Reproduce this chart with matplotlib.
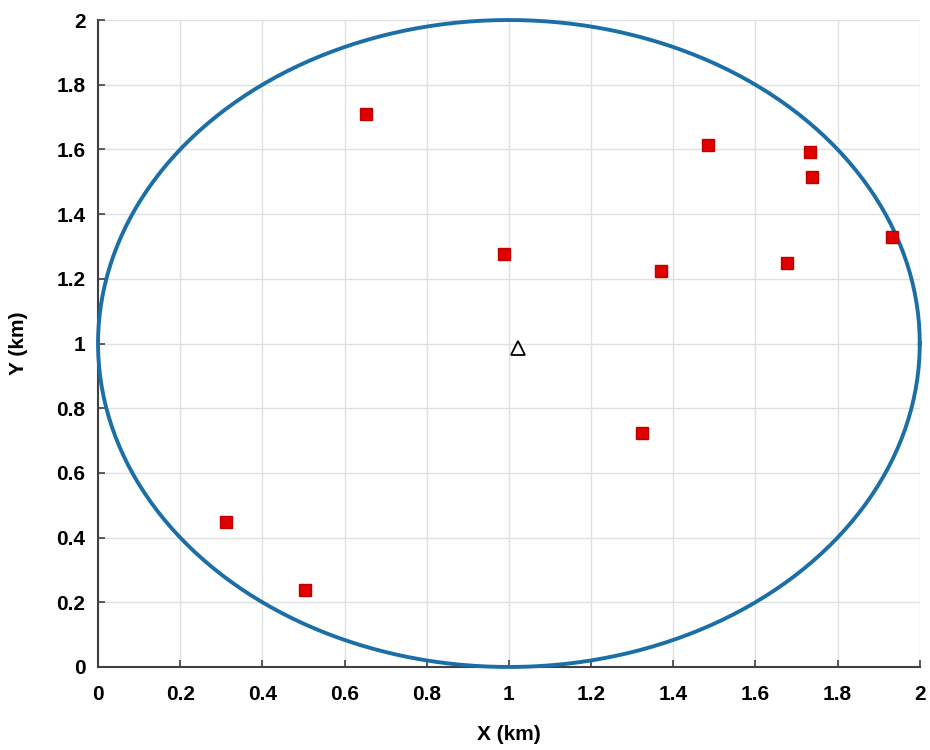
import numpy as np
import matplotlib
matplotlib.use("Agg")
import matplotlib.pyplot as plt

plt.rcParams['font.family'] = ['Liberation Sans', 'DejaVu Sans']

# Data
node_x = [0.653, 1.484, 1.734, 1.737, 1.932, 0.989, 1.369, 1.678, 1.323, 0.312, 0.504]
node_y = [1.709, 1.614, 1.592, 1.515, 1.329, 1.277, 1.224, 1.249, 0.723, 0.448, 0.238]
bs_x = [1.023]
bs_y = [0.986]
center = (1.0, 1.0)
radius = 1.0
ticks = [0, 0.2, 0.4, 0.6, 0.8, 1, 1.2, 1.4, 1.6, 1.8, 2]
tick_labels = ['0', '0.2', '0.4', '0.6', '0.8', '1', '1.2', '1.4', '1.6', '1.8', '2']

fig = plt.figure(figsize=(9.3, 7.5), dpi=100)
ax = fig.add_axes([0.1054, 0.1107, 0.8836, 0.8626])

t = np.linspace(0, 2 * np.pi, 400)
ax.plot(center[0] + radius * np.cos(t), center[1] + radius * np.sin(t),
        color='#1c6ea6', lw=2.8, zorder=3, clip_on=False)
ax.plot(node_x, node_y, 's', color='#E00000', markersize=9, mec='#C00000', zorder=4)
ax.plot(bs_x, bs_y, '^', mfc='none', mec='black', markersize=10, mew=1.3, zorder=4)

ax.set_xlim(0, 2)
ax.set_ylim(0, 2)
ax.set_xticks(ticks)
ax.set_xticklabels(tick_labels)
ax.set_yticks(ticks)
ax.set_yticklabels(tick_labels)
ax.grid(True, color='#e0e0e0', lw=1)
ax.set_axisbelow(True)
for s in ['top', 'right']:
    ax.spines[s].set_visible(False)
for s in ['left', 'bottom']:
    ax.spines[s].set_color('#404040')
    ax.spines[s].set_linewidth(1.5)
ax.tick_params(direction='in', length=5, width=1.2, color='#404040',
               labelsize=15)
ax.tick_params(axis='x', pad=13)
ax.tick_params(axis='y', pad=9)
for lab in ax.get_xticklabels() + ax.get_yticklabels():
    lab.set_fontweight('bold')
ax.set_xlabel('X (km)', fontsize=15, fontweight='bold')
ax.set_ylabel('Y (km)', fontsize=15, fontweight='bold')
ax.xaxis.set_label_coords(0.5, -0.09)
ax.yaxis.set_label_coords(-0.085, 0.5)

fig.savefig('out.png', dpi=100)
